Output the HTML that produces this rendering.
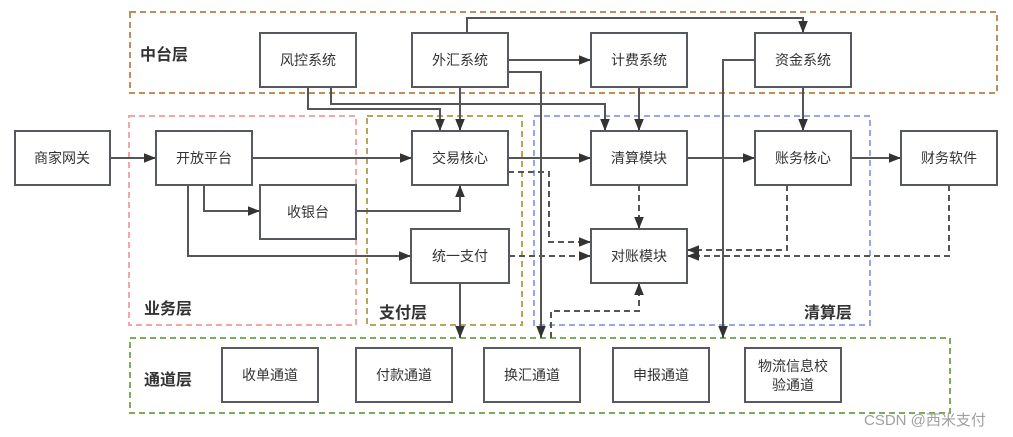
<!DOCTYPE html>
<html><head><meta charset="utf-8"><style>
html,body{margin:0;padding:0;background:#fff;}
svg{display:block;}
text{font-family:"Liberation Sans","Noto Sans CJK SC",sans-serif;}
.n{fill:#fff;stroke:#555a5e;stroke-width:2;}
.t{font-size:14px;fill:#333;text-anchor:middle;dominant-baseline:central;}
.l{font-size:16px;font-weight:bold;fill:#333;}
.c{fill:none;stroke:#555;stroke-width:2;}
.d{fill:none;stroke:#555;stroke-width:2;stroke-dasharray:6,4;}
</style></head><body>
<svg width="1013" height="437" viewBox="0 0 1013 437" xmlns="http://www.w3.org/2000/svg">
<defs>
<marker id="b" viewBox="0 0 10 10" refX="10" refY="5" markerWidth="12" markerHeight="12" orient="auto" markerUnits="userSpaceOnUse"><path d="M0,1 L10,5 L0,9z" fill="#333"/></marker></defs>
<rect x="130" y="12" width="867" height="81" fill="none" stroke="#bf8e5c" stroke-width="2" stroke-dasharray="6,4"/>
<rect x="129" y="116" width="227" height="209" fill="none" stroke="#f2a6a6" stroke-width="2" stroke-dasharray="6,4"/>
<rect x="367" y="116" width="155" height="209" fill="none" stroke="#b8a658" stroke-width="2" stroke-dasharray="6,4"/>
<rect x="534" y="116" width="336" height="209" fill="none" stroke="#98a4f2" stroke-width="2" stroke-dasharray="6,4"/>
<rect x="130" y="338" width="820" height="75" fill="none" stroke="#7eaa5c" stroke-width="2" stroke-dasharray="6,4"/>
<text class="l" x="140" y="60">中台层</text>
<text class="l" x="144" y="314">业务层</text>
<text class="l" x="379" y="318">支付层</text>
<text class="l" x="804" y="318">清算层</text>
<text class="l" x="144" y="385">通道层</text>
<g>
<path class="c" d="M110,158 H156" marker-end="url(#b)"/>
<path class="c" d="M252,158 H412" marker-end="url(#b)"/>
<path class="c" d="M204,185 V211 H260" marker-end="url(#b)"/>
<path class="c" d="M188,185 V256 H411" marker-end="url(#b)"/>
<path class="c" d="M356,211 H460 V185" marker-end="url(#b)"/>
<path class="c" d="M308,87 V109 H440 V131" marker-end="url(#b)"/>
<path class="c" d="M331,87 V104 H605 V131" marker-end="url(#b)"/>
<path class="c" d="M460,87 V131" marker-end="url(#b)"/>
<path class="c" d="M467,33 V18 H803 V33" marker-end="url(#b)"/>
<path class="c" d="M508,60 H591" marker-end="url(#b)"/>
<path class="c" d="M508,72 H541 V338" marker-end="url(#b)"/>
<path class="c" d="M639,87 V131" marker-end="url(#b)"/>
<path class="c" d="M803,87 V131" marker-end="url(#b)"/>
<path class="c" d="M755,60 H723 V338" marker-end="url(#b)"/>
<path class="c" d="M508,158 H591" marker-end="url(#b)"/>
<path class="c" d="M687,158 H755" marker-end="url(#b)"/>
<path class="c" d="M851,158 H901" marker-end="url(#b)"/>
<path class="c" d="M460,283 V338" marker-end="url(#b)"/>
<path class="d" d="M508,172 H549 V242 H591" marker-end="url(#b)"/>
<path class="d" d="M509,256 H591" marker-end="url(#b)"/>
<path class="d" d="M639,185 V229" marker-end="url(#b)"/>
<path class="d" d="M787,185 V250 H687" marker-end="url(#b)"/>
<path class="d" d="M949,185 V256 H687" marker-end="url(#b)"/>
<path class="d" d="M551,338 V311 H639 V283" marker-end="url(#b)"/>
</g>
<g>
<rect class="n" x="260" y="33" width="96" height="54"/><text class="t" x="308" y="60">风控系统</text>
<rect class="n" x="412" y="33" width="96" height="54"/><text class="t" x="460" y="60">外汇系统</text>
<rect class="n" x="591" y="33" width="96" height="54"/><text class="t" x="639" y="60">计费系统</text>
<rect class="n" x="755" y="33" width="96" height="54"/><text class="t" x="803" y="60">资金系统</text>
<rect class="n" x="15" y="131" width="95" height="54"/><text class="t" x="62" y="158">商家网关</text>
<rect class="n" x="156" y="131" width="96" height="54"/><text class="t" x="204" y="158">开放平台</text>
<rect class="n" x="412" y="131" width="96" height="54"/><text class="t" x="460" y="158">交易核心</text>
<rect class="n" x="591" y="131" width="96" height="54"/><text class="t" x="639" y="158">清算模块</text>
<rect class="n" x="755" y="131" width="96" height="54"/><text class="t" x="803" y="158">账务核心</text>
<rect class="n" x="901" y="131" width="96" height="54"/><text class="t" x="949" y="158">财务软件</text>
<rect class="n" x="260" y="185" width="96" height="54"/><text class="t" x="308" y="212">收银台</text>
<rect class="n" x="411" y="229" width="98" height="54"/><text class="t" x="460" y="256">统一支付</text>
<rect class="n" x="591" y="229" width="96" height="54"/><text class="t" x="639" y="256">对账模块</text>
<rect class="n" x="222" y="348" width="96" height="54"/><text class="t" x="270" y="375">收单通道</text>
<rect class="n" x="356" y="348" width="96" height="54"/><text class="t" x="404" y="375">付款通道</text>
<rect class="n" x="484" y="348" width="96" height="54"/><text class="t" x="532" y="375">换汇通道</text>
<rect class="n" x="613" y="348" width="96" height="54"/><text class="t" x="661" y="375">申报通道</text>
<rect class="n" x="745" y="348" width="96" height="54"/><text class="t" x="793" y="366">物流信息校</text><text class="t" x="793" y="385">验通道</text>
</g>
<text x="864" y="425" font-size="15" fill="#a0a0a0">CSDN @西米支付</text>
</svg>
</body></html>
